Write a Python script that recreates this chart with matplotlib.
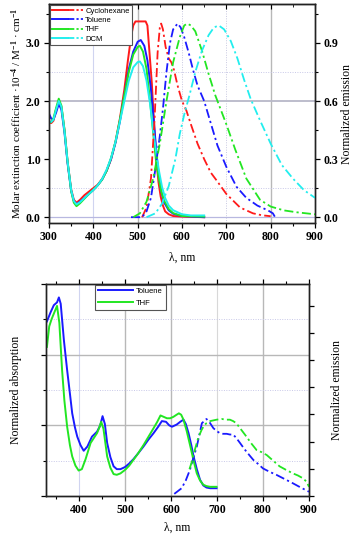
import numpy as np
import matplotlib
matplotlib.use("Agg")
import matplotlib.pyplot as plt
from matplotlib.lines import Line2D
from matplotlib.legend_handler import HandlerTuple
from matplotlib.ticker import MultipleLocator, FormatStrFormatter

# ---------------- top panel data ----------------
solvents_top = ["Cyclohexane", "Toluene", "THF", "DCM"]
colors_top = ["#ff1a1a", "#1a1aff", "#22e622", "#22eeee"]

abs_chx_x = [300, 305, 310, 316, 322, 328, 335, 342, 350, 356, 362, 370, 380, 390, 400, 410, 420, 430, 440, 450, 460, 470, 478, 485, 490, 495, 500, 510, 518, 522, 527, 532, 537, 542, 547, 552, 557, 562, 570, 580, 600, 650]
abs_chx_y = [1.65, 1.62, 1.66, 1.85, 2.0, 1.9, 1.5, 0.95, 0.48, 0.3, 0.25, 0.3, 0.38, 0.44, 0.5, 0.56, 0.66, 0.8, 1.0, 1.3, 1.7, 2.2, 2.7, 3.1, 3.3, 3.37, 3.37, 3.37, 3.37, 3.3, 2.8, 2.3, 1.6, 1.0, 0.6, 0.35, 0.2, 0.1, 0.05, 0.02, 0.01, 0.0]

abs_tol_x = [300, 305, 310, 316, 322, 328, 335, 342, 350, 356, 362, 370, 380, 390, 400, 410, 420, 430, 440, 450, 460, 470, 480, 490, 500, 507, 515, 522, 530, 537, 543, 548, 553, 560, 570, 580, 600, 650]
abs_tol_y = [1.78, 1.7, 1.68, 1.8, 1.95, 1.85, 1.45, 0.92, 0.45, 0.28, 0.22, 0.27, 0.33, 0.4, 0.47, 0.55, 0.65, 0.8, 1.0, 1.28, 1.65, 2.1, 2.55, 2.85, 3.02, 3.05, 2.95, 2.7, 2.2, 1.6, 1.05, 0.7, 0.45, 0.25, 0.12, 0.06, 0.02, 0.0]

abs_thf_x = [300, 305, 310, 316, 322, 328, 335, 342, 350, 356, 362, 370, 380, 390, 400, 410, 420, 430, 440, 450, 460, 470, 480, 490, 500, 505, 512, 520, 528, 535, 541, 547, 553, 560, 570, 580, 600, 650]
abs_thf_y = [1.62, 1.64, 1.7, 1.88, 2.04, 1.92, 1.5, 0.95, 0.45, 0.25, 0.19, 0.24, 0.32, 0.4, 0.47, 0.55, 0.65, 0.8, 1.02, 1.3, 1.68, 2.1, 2.5, 2.8, 2.93, 2.95, 2.85, 2.55, 2.0, 1.45, 1.0, 0.7, 0.45, 0.28, 0.14, 0.07, 0.02, 0.01]

abs_dcm_x = [300, 305, 310, 316, 322, 328, 335, 342, 350, 356, 362, 370, 380, 390, 400, 410, 420, 430, 440, 450, 460, 470, 480, 490, 500, 505, 512, 520, 528, 535, 542, 548, 555, 562, 570, 580, 600, 620, 650]
abs_dcm_y = [1.65, 1.64, 1.68, 1.85, 2.0, 1.9, 1.48, 0.95, 0.47, 0.28, 0.22, 0.26, 0.33, 0.4, 0.47, 0.55, 0.66, 0.82, 1.02, 1.3, 1.65, 2.0, 2.35, 2.58, 2.67, 2.68, 2.6, 2.35, 1.95, 1.5, 1.1, 0.8, 0.52, 0.33, 0.2, 0.12, 0.05, 0.03, 0.03]

em_chx_x = [510, 520, 530, 538, 545, 550, 553, 557, 563, 570, 576, 582, 590, 600, 610, 620, 635, 650, 665, 678, 700, 731, 760, 780, 800]
em_chx_y = [0.0, 0.05, 0.2, 0.5, 0.85, 0.98, 1.0, 0.97, 0.88, 0.82, 0.8, 0.76, 0.68, 0.6, 0.55, 0.48, 0.38, 0.3, 0.23, 0.19, 0.12, 0.05, 0.02, 0.01, 0.005]

em_tol_x = [485, 500, 510, 520, 530, 540, 550, 557, 565, 573, 580, 590, 597, 605, 615, 625, 635, 650, 663, 680, 700, 723, 745, 770, 794, 805, 810]
em_tol_y = [0.0, 0.0, 0.0, 0.03, 0.1, 0.25, 0.42, 0.56, 0.75, 0.9, 0.97, 1.0, 0.98, 0.93, 0.85, 0.76, 0.68, 0.6, 0.5, 0.37, 0.26, 0.157, 0.1, 0.06, 0.035, 0.02, 0.0]

em_thf_x = [490, 505, 520, 535, 550, 565, 580, 595, 605, 612, 620, 630, 645, 660, 675, 690, 700, 720, 745, 776, 800, 830, 860, 900]
em_thf_y = [0.0, 0.02, 0.08, 0.2, 0.38, 0.6, 0.8, 0.93, 0.99, 1.0, 0.99, 0.96, 0.86, 0.74, 0.63, 0.54, 0.48, 0.35, 0.2, 0.09, 0.055, 0.035, 0.025, 0.015]

em_dcm_x = [520, 540, 555, 570, 585, 595, 605, 618, 630, 645, 660, 672, 683, 695, 710, 725, 740, 755, 776, 800, 825, 850, 875, 900]
em_dcm_y = [0.0, 0.02, 0.07, 0.16, 0.3, 0.43, 0.53, 0.64, 0.75, 0.86, 0.94, 0.98, 0.99, 0.97, 0.91, 0.82, 0.71, 0.61, 0.5, 0.38, 0.27, 0.2, 0.14, 0.1]

# ---------------- bottom panel data ----------------
solvents_bot = ["Toluene", "THF"]
colors_bot = ["#1a1aff", "#22e622"]

abs2_tol_x = [330, 338, 345, 352, 356, 360, 367, 374, 380, 385, 391, 396, 403, 410, 418, 428, 439, 446, 451, 456, 461, 468, 475, 482, 490, 500, 509, 518, 528, 540, 551, 562, 572, 580, 589, 596, 602, 612, 620, 627, 632, 638, 644, 649, 656, 663, 670, 677, 685, 692, 699]
abs2_tol_y = [2.47, 2.6, 2.7, 2.74, 2.81, 2.72, 2.2, 1.78, 1.45, 1.17, 0.97, 0.84, 0.72, 0.64, 0.7, 0.84, 0.91, 1.0, 1.13, 1.02, 0.75, 0.55, 0.42, 0.38, 0.38, 0.41, 0.46, 0.52, 0.6, 0.7, 0.8, 0.89, 0.98, 1.06, 1.05, 1.0, 0.98, 1.01, 1.05, 1.08, 1.02, 0.89, 0.72, 0.56, 0.38, 0.23, 0.15, 0.12, 0.11, 0.11, 0.11]

abs2_thf_x = [330, 335, 340, 345, 352, 357, 363, 368, 374, 380, 385, 392, 399, 406, 414, 425, 439, 444, 448, 453, 461, 468, 475, 482, 490, 500, 509, 518, 528, 540, 551, 562, 570, 577, 584, 591, 598, 605, 612, 617, 622, 627, 634, 642, 649, 656, 663, 670, 677, 685, 692, 699]
abs2_thf_y = [2.11, 2.4, 2.5, 2.58, 2.69, 2.45, 1.78, 1.35, 0.98, 0.72, 0.56, 0.43, 0.36, 0.38, 0.52, 0.75, 0.89, 0.97, 1.05, 0.95, 0.56, 0.4, 0.31, 0.3, 0.32, 0.37, 0.43, 0.51, 0.6, 0.72, 0.84, 0.96, 1.05, 1.14, 1.12, 1.1, 1.1, 1.12, 1.15, 1.17, 1.15, 1.08, 0.92, 0.7, 0.5, 0.32, 0.22, 0.16, 0.14, 0.13, 0.13, 0.13]

em2_tol_x = [607, 615, 623, 632, 641, 649, 656, 662, 667, 672, 677, 684, 692, 699, 706, 713, 721, 728, 735, 742, 750, 760, 770, 779, 790, 800, 815, 829, 847, 865, 882, 900]
em2_tol_y = [0.03, 0.07, 0.11, 0.22, 0.37, 0.55, 0.7, 0.88, 1.03, 1.06, 1.09, 1.04, 0.96, 0.92, 0.89, 0.88, 0.88, 0.87, 0.87, 0.82, 0.75, 0.66, 0.58, 0.51, 0.45, 0.39, 0.34, 0.3, 0.24, 0.18, 0.12, 0.06]

em2_thf_x = [640, 645, 652, 659, 666, 672, 677, 685, 692, 699, 710, 720, 728, 735, 742, 750, 757, 764, 775, 786, 797, 808, 822, 836, 850, 865, 876, 887, 895, 900]
em2_thf_y = [0.38, 0.48, 0.66, 0.82, 0.93, 1.0, 1.03, 1.06, 1.07, 1.08, 1.09, 1.08, 1.08, 1.06, 1.03, 0.96, 0.9, 0.84, 0.74, 0.65, 0.62, 0.58, 0.5, 0.42, 0.37, 0.32, 0.29, 0.25, 0.2, 0.13]

# ---------------- styling ----------------
SERIF = ["Liberation Serif", "DejaVu Serif"]
SANS = ["Liberation Sans", "DejaVu Sans"]
plt.rcParams["font.family"] = SERIF
plt.rcParams["font.weight"] = "bold"
plt.rcParams["xtick.labelsize"] = 8.5
plt.rcParams["ytick.labelsize"] = 8.5
plt.rcParams["mathtext.fontset"] = "custom"
plt.rcParams["mathtext.rm"] = "Liberation Serif"
plt.rcParams["mathtext.it"] = "Liberation Serif:italic"

W, H = 354, 534
fig = plt.figure(figsize=(W / 100, H / 100), dpi=100)

lw_abs = 1.4
lw_em = 1.3
dash_em = (0, (5, 1.8, 1.2, 1.8))

label_font = dict(family=SERIF, size=8.5, weight="normal")


def style_axes(ax):
    for s in ax.spines.values():
        s.set_linewidth(1.0)
        s.set_color("#222222")
    ax.tick_params(which="major", length=3.5, width=0.9, direction="out", pad=2.5)
    ax.tick_params(which="minor", length=2.0, width=0.8, direction="out")


# ---------------- top panel ----------------
ax1 = fig.add_axes([49 / W, 1 - 223 / H, (315 - 49) / W, (223 - 4) / H])
ax1r = ax1.twinx()
ax1.set_xlim(300, 900)
ax1.set_ylim(-0.1, 3.67)
ax1r.set_ylim(-0.03, 1.101)

# grid decorations
for xv in [500, 800]:
    ax1.axvline(xv, color="#b8b8b8", lw=1.0, zorder=0)
for xv in [400]:
    ax1.axvline(xv, color="#d0d4f0", lw=0.8, zorder=0)
for xv in [600, 700]:
    ax1.axvline(xv, color="#c8c8e0", lw=0.7, ls=(0, (1, 1.5)), zorder=0)
ax1.axhline(2.0, color="#b8b8c8", lw=1.3, zorder=0)
ax1.axhline(0.0, color="#b8b8e0", lw=0.9, zorder=0)
for yv in [0.5, 2.5]:
    ax1.axhline(yv, color="#c8c8e8", lw=0.7, ls=(0, (1, 1.5)), zorder=0)

abs_sets = [(abs_chx_x, abs_chx_y), (abs_tol_x, abs_tol_y), (abs_thf_x, abs_thf_y), (abs_dcm_x, abs_dcm_y)]
em_sets = [(em_chx_x, em_chx_y), (em_tol_x, em_tol_y), (em_thf_x, em_thf_y), (em_dcm_x, em_dcm_y)]
handles = []
for (ax_, ay_), (ex_, ey_), c, name in zip(abs_sets, em_sets, colors_top, solvents_top):
    ax1.plot(ax_, ay_, color=c, lw=lw_abs, solid_joinstyle="round")
    ax1r.plot(ex_, ey_, color=c, lw=lw_em, ls=dash_em)
    h1 = Line2D([], [], color=c, lw=lw_abs)
    h2 = Line2D([], [], color=c, lw=lw_em, ls=(0, (3.5, 1.2, 1.2, 1.2)))
    handles.append((h1, h2))

ax1.xaxis.set_major_locator(MultipleLocator(100))
ax1.xaxis.set_minor_locator(MultipleLocator(50))
ax1.yaxis.set_major_locator(MultipleLocator(1.0))
ax1.yaxis.set_minor_locator(MultipleLocator(0.5))
ax1.yaxis.set_major_formatter(FormatStrFormatter("%.1f"))
ax1r.yaxis.set_major_locator(MultipleLocator(0.3))
ax1r.yaxis.set_minor_locator(MultipleLocator(0.15))
ax1r.yaxis.set_major_formatter(FormatStrFormatter("%.1f"))
style_axes(ax1)
style_axes(ax1r)
sec1 = ax1.secondary_xaxis("top")
sec1.xaxis.set_major_locator(MultipleLocator(100))
sec1.xaxis.set_minor_locator(MultipleLocator(50))
sec1.tick_params(which="major", direction="in", length=3.5, labeltop=False)
sec1.tick_params(which="minor", direction="in", length=2, labeltop=False)

ax1.set_xlabel("λ, nm", fontdict=label_font, labelpad=6)
ax1.set_ylabel("Molar extinction coefficient ·10$^{-4}$ / M$^{-1}$ · cm$^{-1}$",
               fontdict=dict(family=SERIF, size=8, weight="normal"), labelpad=1)
ax1r.set_ylabel("Normalized emission", fontdict=label_font, labelpad=2)

leg = ax1.legend(handles, solvents_top, handler_map={tuple: HandlerTuple(ndivide=2, pad=0)},
                 loc="upper left", bbox_to_anchor=(0.0, 1.0), prop=dict(family=SANS, size=5.5, weight="normal"),
                 frameon=True, fancybox=False, edgecolor="#555555", framealpha=1,
                 handlelength=4.0, handletextpad=0.3, borderpad=0.3, labelspacing=0.25,
                 borderaxespad=0.15)
leg.get_frame().set_linewidth(0.8)

# ---------------- bottom panel ----------------
ax2 = fig.add_axes([46 / W, 1 - 496 / H, (309 - 46) / W, (496 - 284) / H])
ax2r = ax2.twinx()
ax2.set_xlim(328, 900)
ax2.set_ylim(0, 3.0)
ax2r.set_ylim(0, 3.0)

for xv in [500, 600, 800]:
    ax2.axvline(xv, color="#b8b8b8", lw=1.0, zorder=0)
ax2.axvline(400, color="#d0d4f0", lw=0.8, zorder=0)
ax2.axvline(700, color="#d8d8d8", lw=0.8, zorder=0)
for yv in [1.0, 2.0]:
    ax2.axhline(yv, color="#b8b8b8", lw=1.0, zorder=0)
for yv in [0.5, 1.5, 2.5]:
    ax2.axhline(yv, color="#c8c8e8", lw=0.7, ls=(0, (1, 1.5)), zorder=0)

abs2_sets = [(abs2_tol_x, abs2_tol_y), (abs2_thf_x, abs2_thf_y)]
em2_sets = [(em2_tol_x, em2_tol_y), (em2_thf_x, em2_thf_y)]
h_bot = []
for (ax_, ay_), (ex_, ey_), c, name in zip(abs2_sets, em2_sets, colors_bot, solvents_bot):
    ln, = ax2.plot(ax_, ay_, color=c, lw=lw_abs, solid_joinstyle="round")
    ax2r.plot(ex_, ey_, color=c, lw=lw_em, ls=dash_em)
    h_bot.append(ln)

ax2.xaxis.set_major_locator(MultipleLocator(100))
ax2.xaxis.set_minor_locator(MultipleLocator(50))
ax2.yaxis.set_major_locator(MultipleLocator(1.0))
ax2.yaxis.set_minor_locator(MultipleLocator(0.5))
ax2r.yaxis.set_major_locator(MultipleLocator(3.0 / 7.8))
style_axes(ax2)
style_axes(ax2r)
ax2.tick_params(axis="y", which="both", labelleft=False)
ax2r.tick_params(axis="y", which="both", labelright=False)
ax2.tick_params(axis="x", which="both", top=True)

ax2.set_xlabel("λ, nm", fontdict=label_font, labelpad=4)
ax2.set_ylabel("Normalized absorption", fontdict=label_font, labelpad=14)
ax2r.set_ylabel("Normalized emission", fontdict=label_font, labelpad=12)

leg2 = ax2.legend(h_bot, solvents_bot, loc="upper left", bbox_to_anchor=(0.185, 1.0),
                  prop=dict(family=SANS, size=5.5, weight="normal"), frameon=True, fancybox=False,
                  edgecolor="#555555", framealpha=1, handlelength=4.5,
                  handletextpad=0.4, borderpad=0.4, labelspacing=0.6, borderaxespad=0.1)
leg2.get_frame().set_linewidth(0.8)

fig.savefig("out.png", dpi=100)
